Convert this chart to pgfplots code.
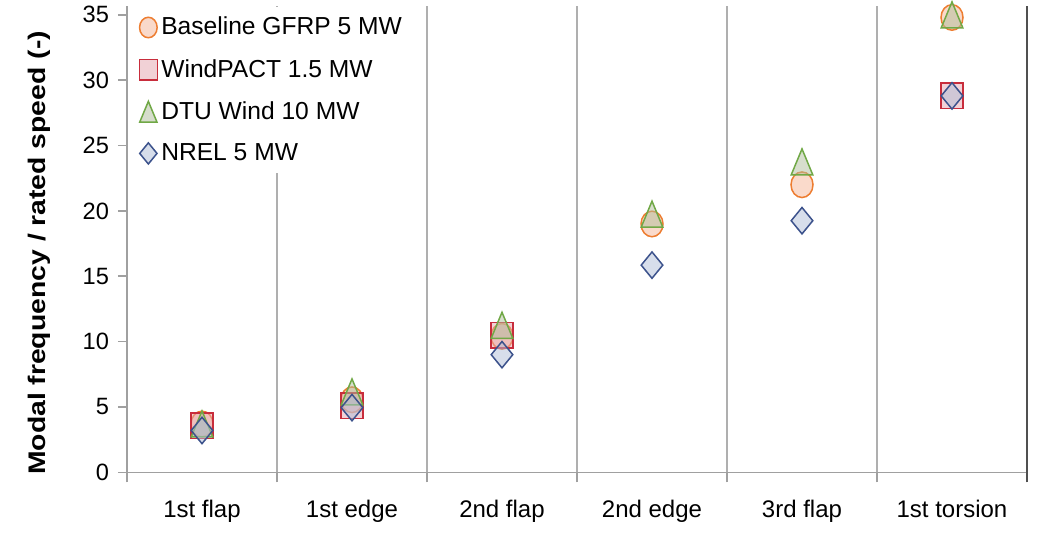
\documentclass[border=0pt]{standalone}
\usepackage{pgfplots}
\pgfplotsset{compat=1.18}
\usepackage{fontspec}
\setmainfont{Liberation Sans}
\definecolor{cOr}{RGB}{237,125,49}
\definecolor{cOrF}{RGB}{245,181,151}
\definecolor{cRd}{RGB}{200,45,60}
\definecolor{cRdF}{RGB}{229,165,175}
\definecolor{cGr}{RGB}{112,168,70}
\definecolor{cGrF}{RGB}{175,189,155}
\definecolor{cBl}{RGB}{60,82,140}
\definecolor{cBlF}{RGB}{175,189,215}
\definecolor{cAx}{RGB}{160,160,160}
\definecolor{cGrid}{RGB}{175,175,175}
\definecolor{cDark}{RGB}{80,80,80}
\pgfdeclareplotmark{xell}{\pgfpathellipse{\pgfpointorigin}{\pgfqpoint{5.5pt}{0pt}}{\pgfqpoint{0pt}{6.4pt}}\pgfusepathqfillstroke}
\pgfdeclareplotmark{xsq}{\pgfpathrectanglecorners{\pgfqpoint{-5.6pt}{-6.4pt}}{\pgfqpoint{5.6pt}{6.4pt}}\pgfusepathqfillstroke}
\pgfdeclareplotmark{xtri}{\pgfpathmoveto{\pgfqpoint{0pt}{6.5pt}}\pgfpathlineto{\pgfqpoint{5.4pt}{-6.5pt}}\pgfpathlineto{\pgfqpoint{-5.4pt}{-6.5pt}}\pgfpathclose\pgfusepathqfillstroke}
\pgfdeclareplotmark{xdia}{\pgfpathmoveto{\pgfqpoint{0pt}{6.6pt}}\pgfpathlineto{\pgfqpoint{5.4pt}{0pt}}\pgfpathlineto{\pgfqpoint{0pt}{-6.6pt}}\pgfpathlineto{\pgfqpoint{-5.4pt}{0pt}}\pgfpathclose\pgfusepathqfillstroke}
\pgfplotsset{
  exc/.style={only marks,
    legend image code/.code={\draw[mark repeat=2,mark phase=2,##1,every mark/.append style={scale=0.8}] plot coordinates {(0cm,0cm) (0.2cm,0cm) (0.4cm,0cm)};}},
}
\begin{document}
\begin{tikzpicture}
\begin{axis}[
  name=ax,
  scale only axis, width=450pt, height=233.3pt,
  xmin=-0.5, xmax=5.5, ymin=0, ymax=35.7,
  clip=false,
  axis lines*=left,
  axis line style={cAx, line width=0.75pt},
  xtick={0,1,2,3,4,5},
  xticklabels={1st flap,1st edge,2nd flap,2nd edge,3rd flap,1st torsion},
  minor xtick={-0.5,0.5,1.5,2.5,3.5,4.5},
  xminorgrids=true,
  minor grid style={cGrid, line width=0.75pt},
  major x tick style={draw=none},
  minor x tick style={cAx, line width=0.75pt},
  ytick={0,5,...,35},
  major y tick style={cAx, line width=0.75pt},
  tick align=outside,
  major tick length=4.5pt,
  minor tick length=5pt,
  /pgf/number format/assume math mode=true,
  yticklabel style={font=\fontsize{11.8}{13}\selectfont, xshift=-1pt},
  xticklabel style={font=\fontsize{12}{14}\selectfont, yshift=-6pt},
  ylabel={Modal frequency / rated speed (-)},
  ylabel style={font=\bfseries\fontsize{12}{14}\selectfont, at={([xshift=-44pt]rel axis cs:0,0.47)}, anchor=center, xscale=1.18},
  legend style={at={(rel axis cs:0,1)}, anchor=north west, xshift=5pt, yshift=-0.5pt,
    draw=none, fill=white, inner xsep=1pt, inner ysep=3pt,
    font=\fontsize{12.3}{14}\selectfont, row sep=6.65pt,
    nodes={inner xsep=2pt}},
  legend cell align=left,
]
\addplot[exc, mark=xell, mark options={draw=cOr, fill=cOrF, fill opacity=0.5, line width=0.75pt}]
  coordinates {(0,3.7) (1,5.55) (2,10.4) (3,19.0) (4,22.0) (5,34.8)};
\addlegendentry{Baseline GFRP 5 MW}
\addplot[exc, mark=xsq, mark options={draw=cRd, fill=cRdF, fill opacity=0.5, line width=0.75pt}]
  coordinates {(0,3.55) (1,5.1) (2,10.5) (5,28.8)};
\addlegendentry{WindPACT 1.5 MW}
\addplot[exc, mark=xtri, mark options={draw=cGr, fill=cGrF, fill opacity=0.5, line width=0.75pt}]
  coordinates {(0,3.7) (1,6.15) (2,11.25) (3,19.75) (4,23.75) (5,35.0)};
\addlegendentry{DTU Wind 10 MW}
\addplot[exc, mark=xdia, mark options={draw=cBl, fill=cBlF, fill opacity=0.5, line width=0.75pt}]
  coordinates {(0,3.2) (1,4.95) (2,9.0) (3,15.85) (4,19.25) (5,28.8)};
\addlegendentry{NREL 5 MW}
\draw[cDark, line width=0.8pt] ([yshift=-5pt]rel axis cs:1,0) -- (rel axis cs:1,1);
\end{axis}
\pgfresetboundingbox
\path[use as bounding box] ([shift={(-63.5pt,-30.35pt)}]ax.south west) rectangle ([shift={(455.5pt,236.15pt)}]ax.south west);
\end{tikzpicture}
\end{document}
